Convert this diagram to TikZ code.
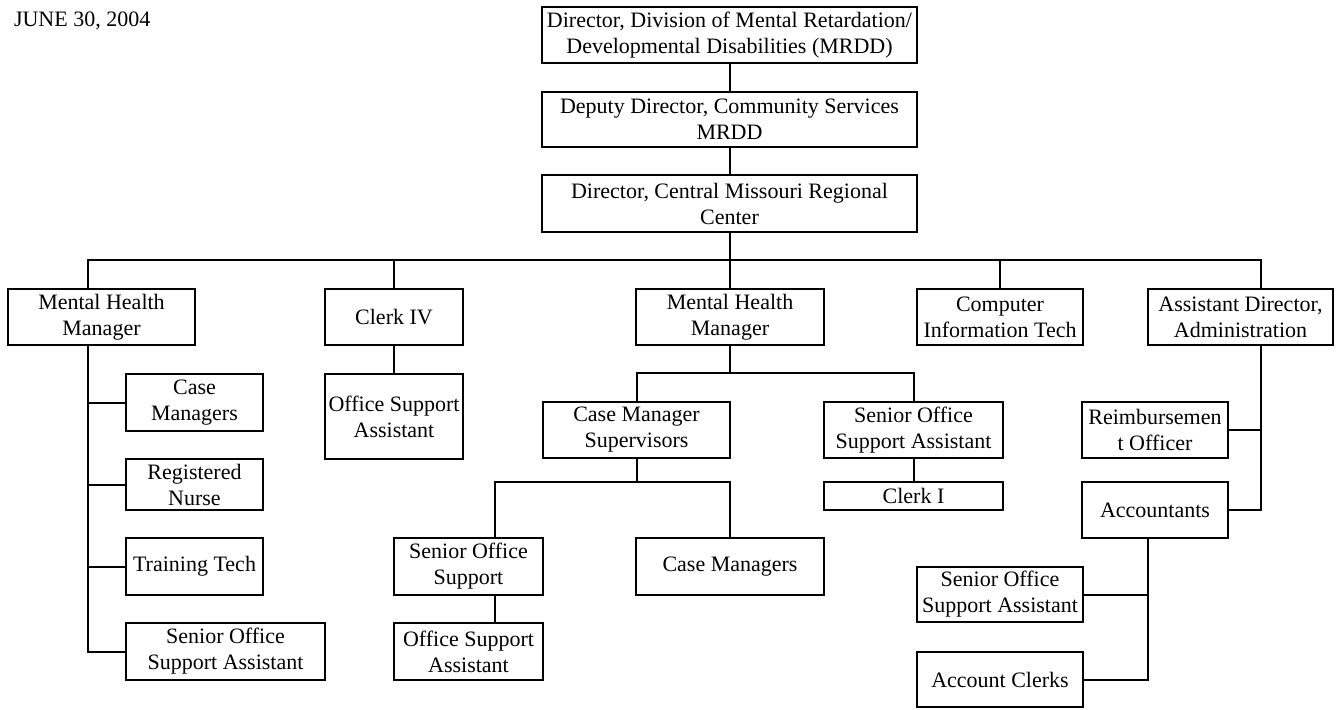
\documentclass[tikz,border=0pt]{standalone}
\usepackage{fontspec}
\setmainfont{Liberation Serif}
\usetikzlibrary{positioning, calc}
\tikzset{orgbox/.style 2 args={draw, inner sep=0pt, align=center, minimum width={#1*0.5pt}, minimum height={#2*0.5pt}}}

\begin{document}
\begin{tikzpicture}[x=0.5pt, y=-0.5pt, line width=1pt, font=\fontsize{11}{13}\selectfont]
  \useasboundingbox (0,0) rectangle (1338,709);
  \node[anchor=west, inner sep=0pt] (date) at (13,21) {JUNE 30, 2004};

  % top of the chart
  \node[orgbox={375}{56}] (mrdd) at (729.5,35) {Director, Division of Mental Retardation/\\Developmental Disabilities (MRDD)};
  \node[orgbox={375}{55}] (deputy) at (729.5,119.5) {Deputy Director, Community Services\\MRDD};
  \node[orgbox={375}{57}] (regional) at (729.5,203.5) {Director, Central Missouri Regional\\Center};

  % first row
  \node[orgbox={187}{56}] (mhmA) at (101.5,317) {Mental Health\\Manager};
  \node[orgbox={138}{56}] (clerkIV) at (394,317) {Clerk IV};
  \node[orgbox={188}{56}] (mhmB) at (730,317) {Mental Health\\Manager};
  \node[orgbox={166}{56}] (compIT) at (1000,317) {Computer\\Information Tech};
  \node[orgbox={185}{56}] (admin) at (1240.5,317) {Assistant Director,\\Administration};

  % under the first manager
  \node[orgbox={137}{57}] (casemgrA) at (194.5,402.5) {Case\\Managers};
  \node[orgbox={137}{51}] (nurse) at (194.5,484.5) {Registered\\Nurse};
  \node[orgbox={137}{57}] (training) at (194.5,566.5) {Training Tech};
  \node[orgbox={199}{57}] (sosaA) at (225.5,651.5) {Senior Office\\Support Assistant};

  \node[orgbox={138}{85}] (osaA) at (394,416.5) {Office Support\\Assistant};

  % under the second manager
  \node[orgbox={187}{56}] (cmsup) at (636.5,430) {Case Manager\\Supervisors};
  \node[orgbox={179}{56}] (sosaM) at (913.5,430) {Senior Office\\Support Assistant};
  \node[orgbox={179}{28}] (clerkI) at (913.5,496) {Clerk I};
  \node[orgbox={149}{57}] (sosb) at (468.5,566.5) {Senior Office\\Support};
  \node[orgbox={188}{57}] (casemgrB) at (730,566.5) {Case Managers};
  \node[orgbox={149}{57}] (osaB) at (468.5,651.5) {Office Support\\Assistant};

  % administration
  \node[orgbox={146}{56}] (reimb) at (1155,430) {Reimbursemen\\t Officer};
  \node[orgbox={146}{56}] (acct) at (1155,510) {Accountants};
  \node[orgbox={166}{55}] (sosaR) at (1000,594.5) {Senior Office\\Support Assistant};
  \node[orgbox={166}{55}] (aclerks) at (1000,679.5) {Account Clerks};

  % connectors
  \coordinate (barL) at (88,260);
  \coordinate (barR) at (1261,260);
  \coordinate (midbar) at (730,373);
  \coordinate (sosjoin) at (495,482);
  \coordinate (acctspine) at (1148,538);

  \draw (mrdd) -- (deputy);
  \draw (deputy) -- (regional);
  \draw (regional) -- (regional |- barL);
  \draw (barL |- mhmA.north) -- (barL) -- (barR) -- (barR |- admin.north);
  \draw (clerkIV) -- (clerkIV |- barL);
  \draw (mhmB) -- (mhmB |- barL);
  \draw (compIT) -- (compIT |- barL);

  \draw (barL |- mhmA.south) -- (barL |- sosaA.west) -- (sosaA.west);
  \foreach \n in {casemgrA, nurse, training}
    \draw (\n.west) -- (\n.west -| barL);
  \draw (clerkIV) -- (osaA);

  \draw (mhmB) -- (midbar);
  \draw (cmsup.north) |- (midbar) -| (sosaM.north);
  \draw (sosaM) -- (clerkI);
  \draw (cmsup) -- (cmsup |- sosjoin);
  \draw (sosjoin |- sosb.north) -- (sosjoin) -| (casemgrB.north);
  \draw (sosjoin |- sosb.south) -- (sosjoin |- osaB.north);

  \draw (barR |- admin.south) |- (acct.east);
  \draw (reimb.east) -- (reimb.east -| barR);
  \draw (acctspine |- acct.south) |- (aclerks.east);
  \draw (sosaR.east) -- (sosaR.east -| acctspine);
\end{tikzpicture}
\end{document}
